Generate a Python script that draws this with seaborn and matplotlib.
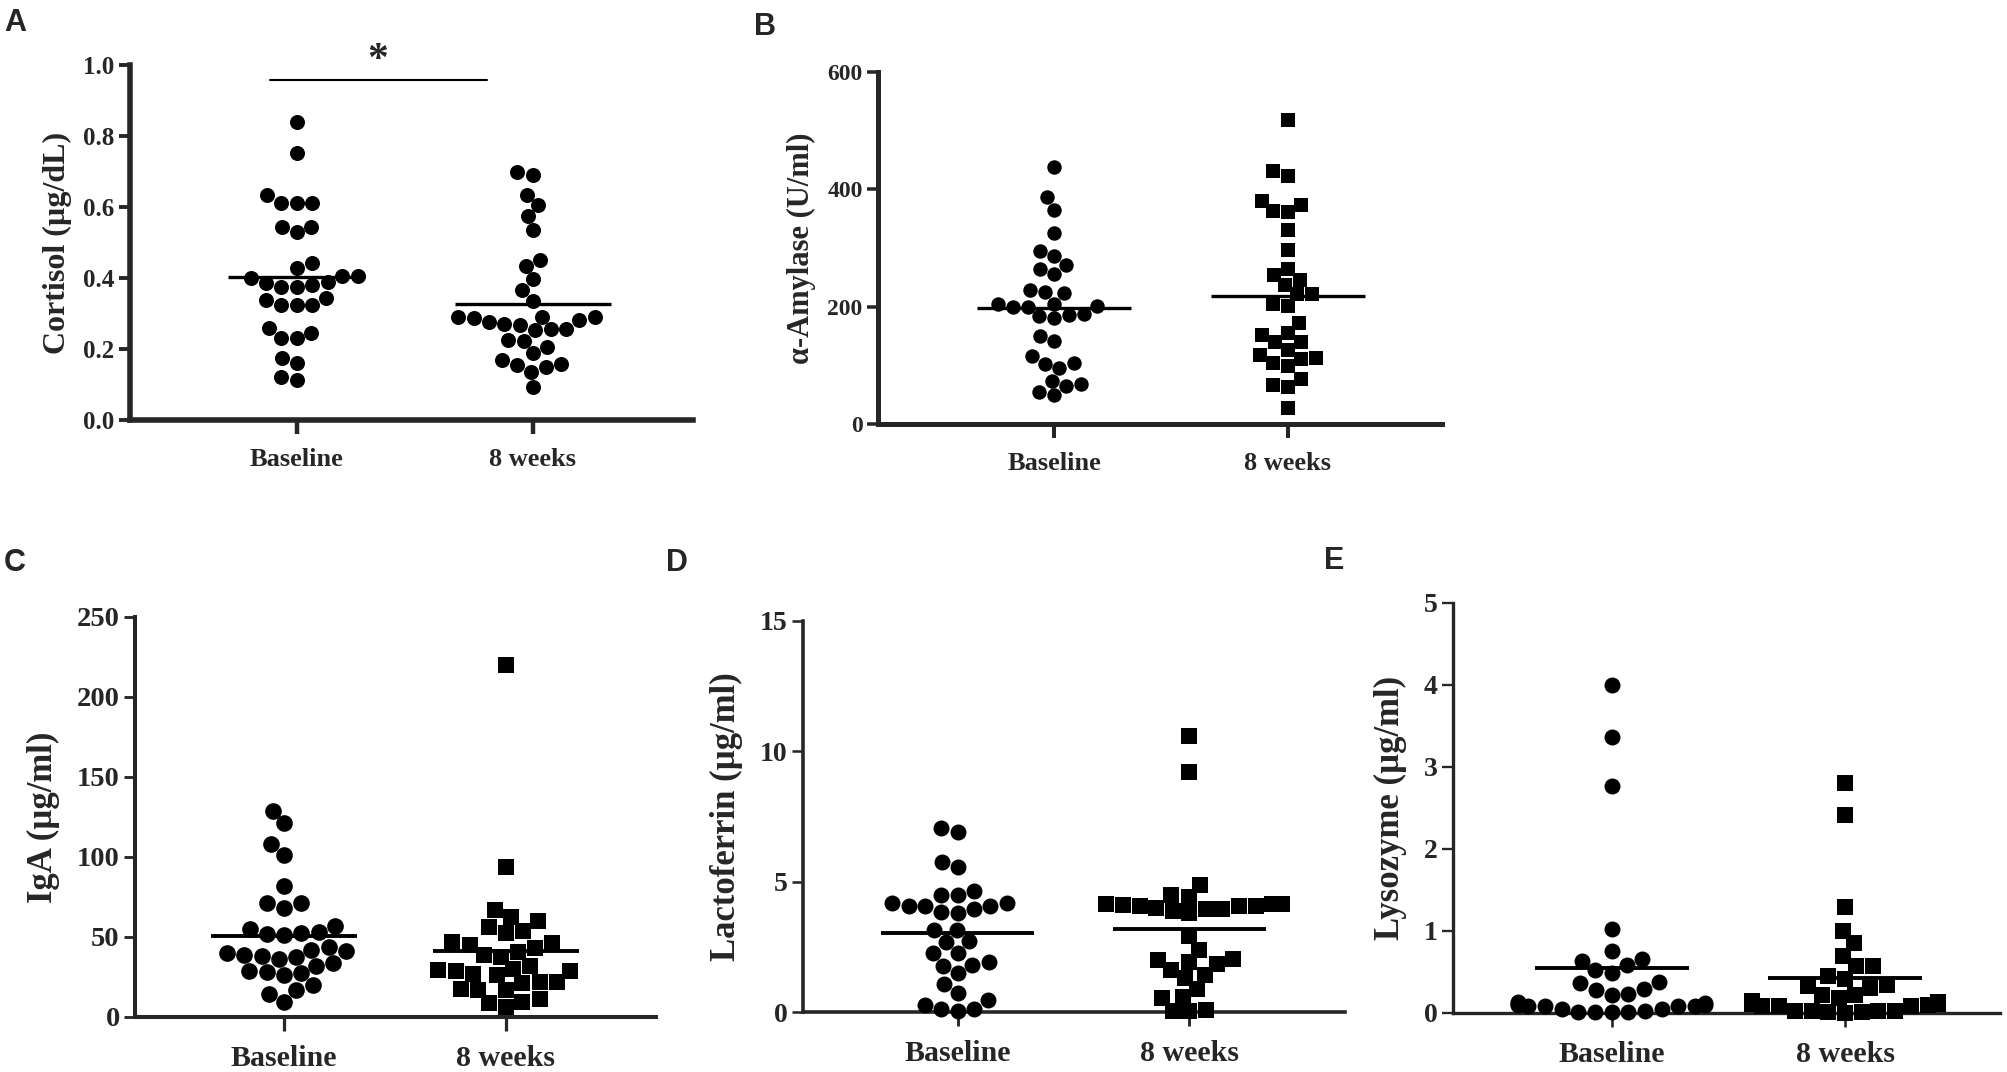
import numpy as np
import pandas as pd
import matplotlib
matplotlib.use("Agg")
import matplotlib.pyplot as plt
import seaborn as sns

# Groupes
groups = ["Baseline", "8 weeks"]

# Cortisol (ug/dL)
cortisol_base = [0.84, 0.751, 0.612, 0.612, 0.612, 0.634, 0.545, 0.53, 0.545, 0.441, 0.427,
                 0.405, 0.405, 0.40, 0.39, 0.38, 0.375, 0.385, 0.374, 0.343, 0.324, 0.324,
                 0.324, 0.338, 0.246, 0.23, 0.23, 0.258, 0.16, 0.174, 0.113, 0.122]
cortisol_8w = [0.70, 0.69, 0.634, 0.606, 0.575, 0.535, 0.45, 0.434, 0.396, 0.366, 0.335,
               0.291, 0.291, 0.281, 0.27, 0.286, 0.289, 0.255, 0.276, 0.267, 0.257, 0.253,
               0.223, 0.225, 0.205, 0.188, 0.169, 0.15, 0.158, 0.136, 0.155, 0.094]

# alpha-amylase (U/ml)
amylase_base = [438, 387, 365, 325, 295, 286, 271, 265, 255, 228, 224, 225, 205, 201, 205, 200,
                200, 180, 186, 187, 184, 150, 142, 116, 103, 95, 104, 74, 69, 65, 55, 49]
amylase_8w = [519, 431, 423, 380, 373, 361, 363, 330, 297, 265, 254, 245, 237, 222, 221, 205,
              201, 172, 155, 151, 140, 139, 126, 117, 112, 110, 104, 99, 76, 66, 63, 27]

# IgA (ug/ml)
iga_base = [129, 121, 108, 101, 82, 71, 68, 71, 57, 55, 52.5, 53, 51, 52, 44, 42, 41, 40, 38,
            39, 37.5, 36, 34, 32, 28, 29, 26, 27.5, 20, 17, 14.6, 9.4]
iga_8w = [220, 94, 67, 62.5, 60, 56, 54, 52.5, 47, 45, 46, 43, 40.6, 39, 37.5, 32, 30, 29.6,
          29, 29, 27, 26, 22, 22, 21, 17, 17, 17.7, 11.5, 9.4, 6, 9]

# Lactoferrin (ug/ml)
lacto_base = [7.05, 6.92, 5.74, 5.55, 4.63, 4.47, 4.47, 4.17, 4.17, 4.08, 4.05, 3.96, 4.08,
              3.83, 3.79, 3.13, 3.13, 2.71, 2.68, 2.26, 2.26, 1.79, 1.76, 1.92, 1.5, 1.09,
              0.74, 0.46, 0.27, 0.1, 0.13, 0.03]
lacto_8w = [10.6, 9.2, 4.89, 4.5, 4.43, 4.08, 4.13, 3.89, 4.13, 4.07, 3.96, 3.79, 4.05, 4.13,
            4.1, 4.0, 3.95, 2.9, 2.39, 1.98, 1.83, 2.05, 1.9, 1.6, 1.41, 1.3, 0.87, 0.52,
            0.58, 0.08, 0.02, 0.05]

# Lysozyme (ug/ml)
lyso_base = [4.0, 3.36, 2.77, 1.03, 0.76, 0.66, 0.64, 0.58, 0.52, 0.49, 0.38, 0.36, 0.29,
             0.28, 0.23, 0.22, 0.13, 0.11, 0.12, 0.10, 0.10, 0.09, 0.09, 0.09, 0.08, 0.05,
             0.01, 0.01, 0.03, 0.01, 0.01, 0.05]
lyso_8w = [2.80, 2.41, 1.29, 1.0, 0.85, 0.70, 0.57, 0.57, 0.42, 0.33, 0.34, 0.22, 0.22, 0.13,
           0.11, 0.10, 0.09, 0.11, 0.09, 0.03, 0.01, 0.03, 0.03, 0.01, 0.0, 0.02, 0.45, 0.30,
           0.18, 0.15, 0.12, 0.08]

sns.set_style("ticks")
plt.rcParams["font.family"] = ["Liberation Serif", "DejaVu Serif"]
plt.rcParams["font.weight"] = "bold"
plt.rcParams["axes.labelweight"] = "bold"


def draw_panel(ax, base, week, ylabel, yticks, ylim, xlim, fmt, letter, letter_xy,
               markers=("o", "s"), msize=11, tick_fs=18, lab_fs=19, ylab_fs=22,
               spine_w=4.0, labelpad=8, half=(0.33, 0.33), mean_lw=2.4):
    """Dessine un panneau: nuage de points + ligne de moyenne"""
    for i, (vals, mk) in enumerate(zip([base, week], markers)):
        df = pd.DataFrame({"group": groups[i], "value": vals})
        sns.swarmplot(data=df, x="group", y="value", order=groups, ax=ax,
                      color="black", marker=mk, size=msize, linewidth=0,
                      warn_thresh=1.0)
        m = np.mean(vals)
        ax.hlines(m, i - half[i], i + half[i], color="black", lw=mean_lw, zorder=5)

    for coll in ax.collections:
        coll.set_clip_on(False)

    ax.set_xlim(*xlim)
    ax.set_ylim(*ylim)
    ax.set_yticks(yticks)
    ax.set_yticklabels([fmt.format(t) for t in yticks], fontsize=tick_fs, fontweight="bold")
    ax.set_xticks([0, 1])
    ax.set_xticklabels(groups, fontsize=lab_fs, fontweight="bold")
    ax.set_xlabel("")
    ax.set_ylabel(ylabel, fontsize=ylab_fs, fontweight="bold", labelpad=labelpad)

    sns.despine(ax=ax)
    for s in ["left", "bottom"]:
        ax.spines[s].set_linewidth(spine_w)
    ax.tick_params(axis="y", length=8, width=spine_w * 0.7, pad=3)
    ax.tick_params(axis="x", length=10, width=spine_w * 0.8, pad=10)

    fig.text(letter_xy[0], letter_xy[1], letter, fontsize=22, fontweight="bold",
             family=["Liberation Sans", "DejaVu Sans"], va="top", ha="left")


W, H = 2008, 1072
fig = plt.figure(figsize=(W / 100, H / 100), dpi=100)


def box(x0, x1, ytop, ybot):
    return [x0 / W, 1 - ybot / H, (x1 - x0) / W, (ybot - ytop) / H]


axA = fig.add_axes(box(130, 693, 65, 420))
axB = fig.add_axes(box(878, 1442, 72, 424))
axC = fig.add_axes(box(135, 656, 617, 1017))
axD = fig.add_axes(box(803, 1345, 621, 1012))
axE = fig.add_axes(box(1453, 2000, 603, 1013))

draw_panel(axA, cortisol_base, cortisol_8w, "Cortisol (µg/dL)",
           [0, 0.2, 0.4, 0.6, 0.8, 1.0], (0, 1.0), (-0.706, 1.679), "{:.1f}",
           "A", (4 / W, 1 - 8 / H), markers=("o", "o"), msize=10.8,
           ylab_fs=23, half=(0.29, 0.33))
draw_panel(axB, amylase_base, amylase_8w, "α-Amylase (U/ml)",
           [0, 200, 400, 600], (0, 600), (-0.754, 1.66), "{:.0f}",
           "B", (754 / W, 1 - 12 / H), msize=10.4, tick_fs=17, spine_w=3.6)
draw_panel(axC, iga_base, iga_8w, "IgA (µg/ml)",
           [0, 50, 100, 150, 200, 250], (0, 250), (-0.671, 1.676), "{:.0f}",
           "C", (4 / W, 1 - 548 / H), msize=12, tick_fs=20.5, lab_fs=21.5,
           ylab_fs=25, spine_w=2.9, labelpad=12, mean_lw=2.8)
draw_panel(axD, lacto_base, lacto_8w, "Lactoferrin (µg/ml)",
           [0, 5, 10, 15], (0, 15), (-0.668, 1.672), "{:.0f}",
           "D", (666 / W, 1 - 548 / H), msize=11.5, tick_fs=20, lab_fs=21.5,
           ylab_fs=25, spine_w=2.6, labelpad=12, mean_lw=2.8)
draw_panel(axE, lyso_base, lyso_8w, "Lysozyme (µg/ml)",
           [0, 1, 2, 3, 4, 5], (0, 5), (-0.68, 1.664), "{:.0f}",
           "E", (1324 / W, 1 - 546 / H), msize=11.5, tick_fs=20, lab_fs=21.5,
           ylab_fs=25, spine_w=2.4, labelpad=12, mean_lw=2.8)

# Barre de significativite (panneau A)
axA.plot([-0.113, 0.806], [0.958, 0.958], color="black", lw=1.5, clip_on=False)
axA.text(0.345, 1.01, "*", fontsize=30, fontweight="bold", ha="center", va="center")

plt.savefig("out.png", dpi=100)
plt.close()
